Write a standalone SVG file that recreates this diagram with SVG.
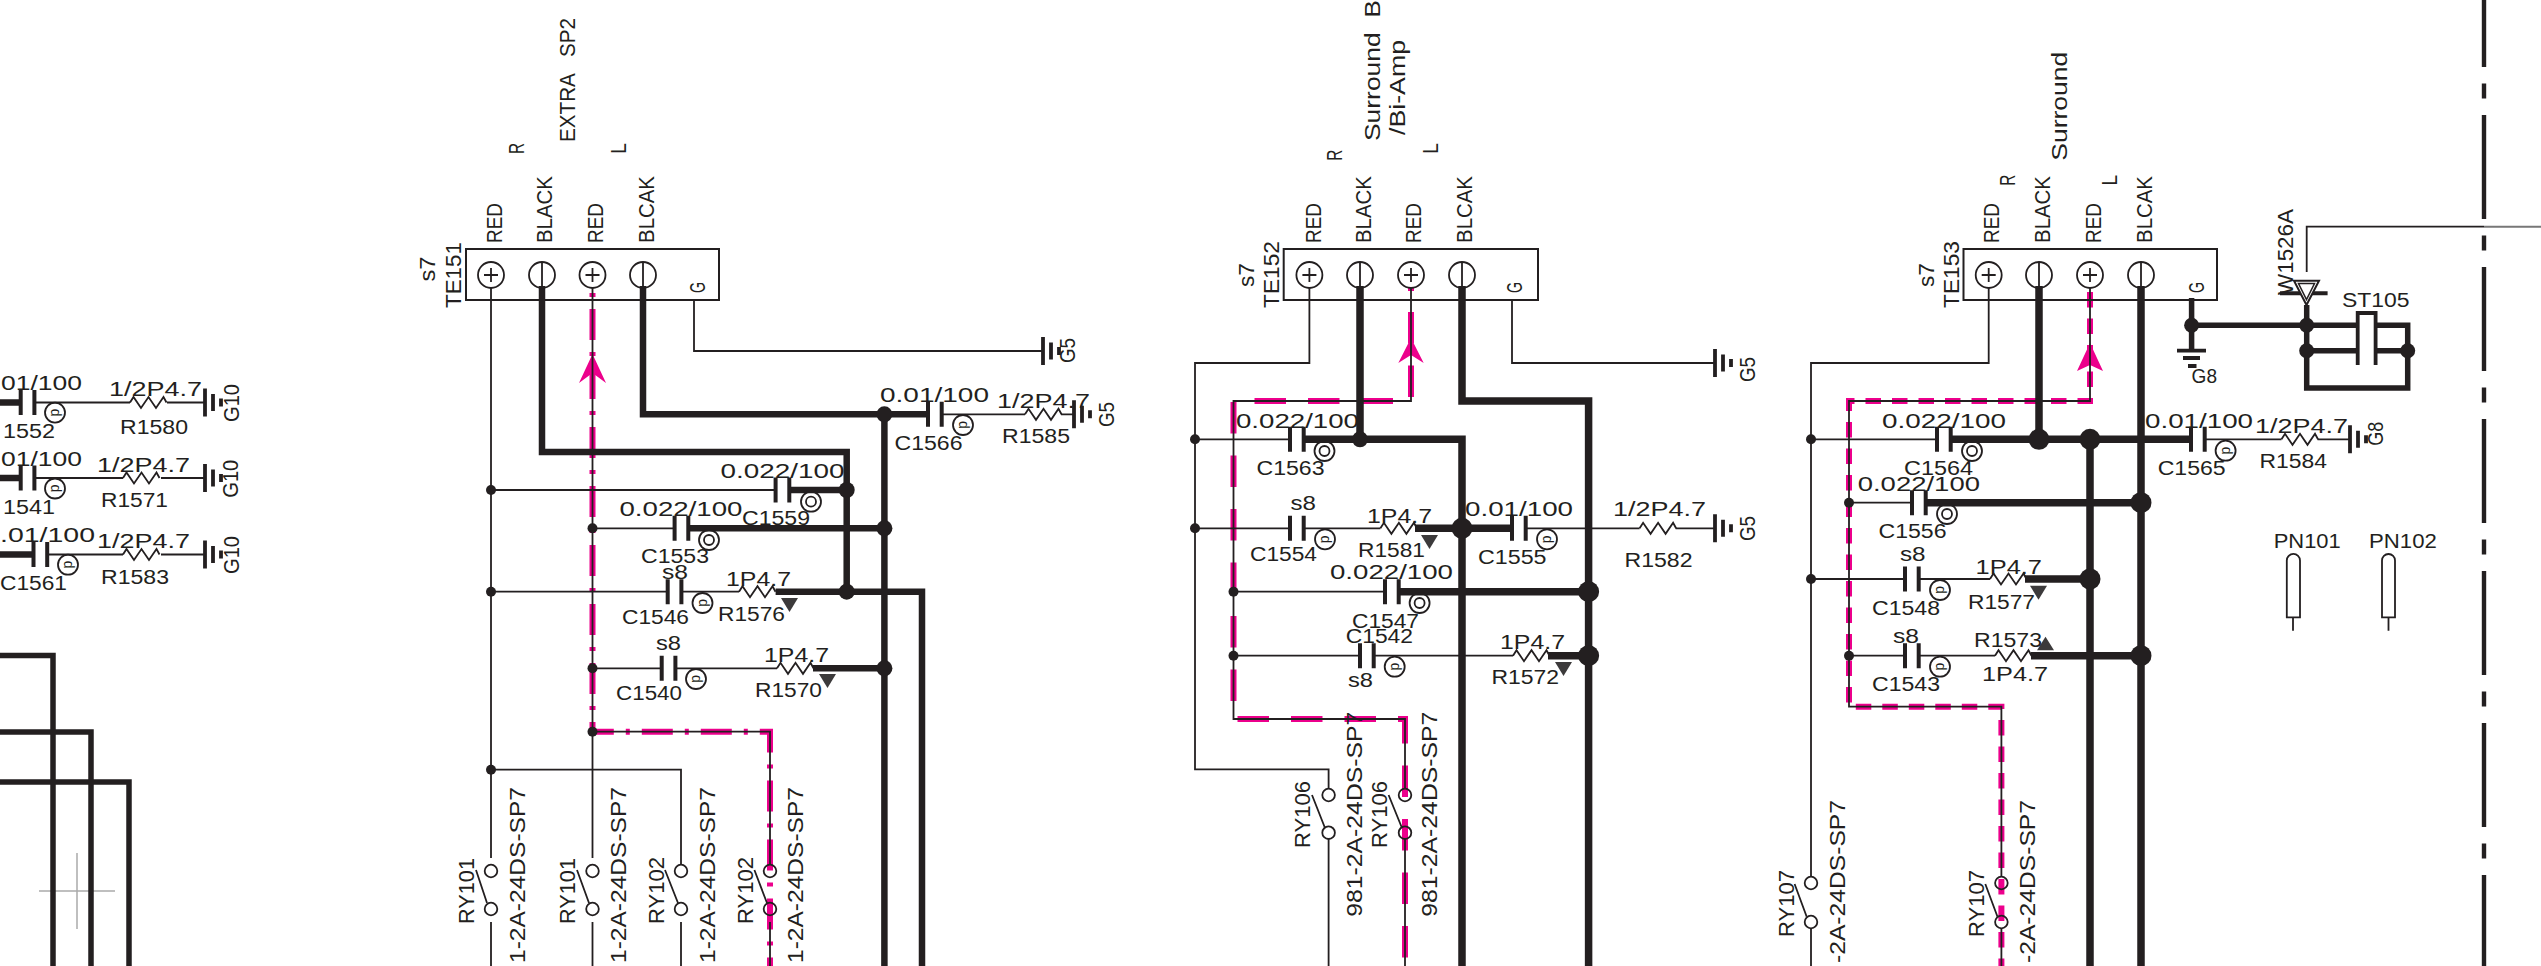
<svg xmlns="http://www.w3.org/2000/svg" width="2541" height="966" viewBox="0 0 2541 966">
<style>
text{font-family:"Liberation Sans",Arial,sans-serif;fill:#231f20;font-size:19.5px}
.r{font-size:22px}
.d{font-size:14px;text-anchor:middle}
.w,.k,.m,.box,.p,.sym{fill:none;stroke:#231f20}
.w{stroke-width:1.8}
.k{stroke-width:6.5;stroke-linejoin:miter}
.k8{stroke-width:7.5}
.m{stroke:#ec008c;stroke-width:6}
.box{stroke-width:2;fill:#fff}
.p{stroke-width:1.8}
.sym{stroke-width:1.8}
.dot{fill:#231f20}
.arr{fill:#ec008c}
.tri{fill:#3c3a3b}
</style>
<defs>
<path id="res" class="w" d="M0 0l3.500-5.500 7.500 11 7.500-11 7.500 11 7.500-11 3 5.500" style="stroke-width:1.8"/>
<path id="cap" d="M0-12.500V12.500M13.700-12.500V12.500" fill="none" stroke="#231f20" stroke-width="4"/>
<path id="gnd" d="M0-14V14M8-8.500V8.500M16-4V4" fill="none" stroke="#231f20" stroke-width="3.800"/>
<path id="tdn" class="tri" d="M0 0H17L8.500 14Z"/>
<path id="tup" class="tri" d="M0 13.500H17L8.500 0Z"/>
</defs>
<rect width="2541" height="966" fill="#fff"/>
<path id="crosshair" d="M77 853V929M39 891H115" fill="none" stroke="#aaa" stroke-width="1.500"/>
<g id="connectors">
<path class="m" stroke-dasharray="4 12 31 12" d="M592.500 293V731.700H770V966"/>
<path class="m" stroke-dasharray="31.500 22" d="M1411 312V401H1233.500V719H1405V966"/>
<path class="m" d="M1411 288V291"/>
<path class="m" stroke-dasharray="15.500 11" d="M2090 292V401H1849V706.700H2001.400V966"/>
<path class="arr" d="M592.500 354L579 383 592.500 373 606 383Z"/>
<path class="arr" d="M1411 338L1398.300 363 1411 355 1423.700 363Z"/>
<path class="arr" d="M2090 343L2077 371 2090 365 2103 371Z"/>
<g class="w">
<path d="M491 288V858M491 922V966M592.500 288V858M592.500 922V966M491 769.700H681V865M681 922V966M592.500 731.700H770V865M770 922V966"/>
<path d="M694 300V351H1043M491 490H775.600M592.500 528.300H674.600M491 591.700H667.700M681.500 591.700H739M592.500 668.300H661.700M675.500 668.300H777"/>
<path d="M942 414.300H1025M1061 414.300H1074"/>
<path d="M1309.400 288V363H1195V769.300H1328.600V789M1328.600 839V966M1411 288V401H1233.500V719H1405V789M1405 839V966"/>
<path d="M1512 300V363H1715M1195 439.300H1290M1195 528.300H1290M1303.700 528.300H1380.400M1526 528.300H1639.600M1675.600 528.300H1715M1233.500 591.700H1385M1233.500 655.700H1360M1374 655.700H1513"/>
<path d="M1988.700 288V363H1811V877M1811 928V966M2090 288V401H1849V706.700H2001.400V877M2001.400 928V966"/>
<path d="M1849 502.700H1912M1811 439.300H1937M2205 439.300H2281.500M2317.500 439.300H2350M1811 579H1905M1919 579H1990M1849 655.700H1905M1919 655.700H1995"/>
<path d="M2306.700 272V226.700H2484" />
</g>
<path d="M2484 226.700H2541" fill="none" stroke="#777" stroke-width="2"/>
<path class="w" d="M130 402.500H34M167 402.500H205M123 478H34M161 478H205M123 554.500H47M161 554.500H205"/>
<g class="k">
<path d="M0 402.500H21M0 478H21M0 554.500H34"/>
<path d="M0 655.400H53V966M0 732H91V966M0 782H129V966" stroke-width="5.500"/>
<path d="M542 286V452H846.700V591.700M643 286V414.300H930M884.400 414.300V966M789 490H846.700M688 528.300H884.400M775.600 591.700H922V966M813 668.300H884.400"/>
<path class="k8" d="M1360 286V439.300H1462V966M1462 286V401H1588.600V966M1303.700 439.300H1462M1415 528.300H1513M1399 591.700H1588.600M1548 655.700H1588.600"/>
<path class="k8" d="M2039 286V439.300M2141 286V966M2090 439.300V966M1950 439.300H2192.600M1925.600 502.700H2141M2025 579H2090M2031 655.700H2141"/>
<path d="M2306.700 305V388H2407.700V325.300H2375.600M2357.700 325.300H2191.600M2191.600 298V350.700M2306.700 350.700H2357.700M2375.600 350.700H2407.700" stroke-width="5.500"/>
</g>
<path id="boundary" d="M2484 -37V966" fill="none" stroke="#231f20" stroke-width="4.400" stroke-dasharray="104 16.500 15 16.500"/>
<g class="dot">
<circle cx="884.400" cy="414.300" r="8"/><circle cx="846.700" cy="490" r="8"/><circle cx="884.400" cy="528.300" r="8"/><circle cx="846.700" cy="591.700" r="8"/><circle cx="884.400" cy="668.300" r="8"/>
<circle cx="491" cy="490" r="5"/><circle cx="592.500" cy="528.300" r="5"/><circle cx="491" cy="591.700" r="5"/><circle cx="592.500" cy="668.300" r="5"/><circle cx="592.500" cy="731.700" r="5"/><circle cx="491" cy="769.700" r="5"/>
<circle cx="1195" cy="439.300" r="5"/><circle cx="1195" cy="528.300" r="5"/><circle cx="1233.500" cy="591.700" r="5"/><circle cx="1233.500" cy="655.700" r="5"/>
<circle cx="1360" cy="439.300" r="8"/><circle cx="1462" cy="528.300" r="10.500"/><circle cx="1588.600" cy="591.700" r="10.500"/><circle cx="1588.600" cy="655.700" r="10.500"/>
<circle cx="1811" cy="439.300" r="5"/><circle cx="1811" cy="579" r="5"/><circle cx="1849" cy="502.700" r="5"/><circle cx="1849" cy="655.700" r="5"/>
<circle cx="2039" cy="439.300" r="10.500"/><circle cx="2090" cy="439.300" r="10.500"/><circle cx="2141" cy="502.700" r="10.500"/><circle cx="2090" cy="579" r="10.500"/><circle cx="2141" cy="655.700" r="10.500"/>
<circle cx="2191.600" cy="325.300" r="7.500"/><circle cx="2306.700" cy="325.300" r="7.500"/><circle cx="2306.700" cy="350.700" r="7.500"/><circle cx="2407.700" cy="350.700" r="7.500"/>
</g>
</g>

<g id="TE151">
<rect class="box" x="466" y="249" width="253" height="51" style="fill:none"/>
<path class="sym" d="M484 275H498M491 268V282M542 262V288M592.500 268V282M585.500 275H599.500M643 262V288"/>
<circle class="p" cx="491" cy="275" r="13"/><circle class="p" cx="542" cy="275" r="13"/><circle class="p" cx="592.500" cy="275" r="13"/><circle class="p" cx="643" cy="275" r="13"/>
<text class="r" transform="rotate(-90 435.400 281.600)" x="435.400" y="281.600" textLength="25" lengthAdjust="spacingAndGlyphs">s7</text>
<text class="r" transform="rotate(-90 461 308)" x="461" y="308" textLength="66" lengthAdjust="spacingAndGlyphs">TE151</text>
<text class="r" transform="rotate(-90 502 243)" x="502" y="243" textLength="40" lengthAdjust="spacingAndGlyphs">RED</text>
<text class="r" transform="rotate(-90 552.400 243)" x="552.400" y="243" textLength="67" lengthAdjust="spacingAndGlyphs">BLACK</text>
<text class="r" transform="rotate(-90 603.400 243)" x="603.400" y="243" textLength="40" lengthAdjust="spacingAndGlyphs">RED</text>
<text class="r" transform="rotate(-90 654 243)" x="654" y="243" textLength="67" lengthAdjust="spacingAndGlyphs">BLCAK</text>
<text class="r" transform="rotate(-90 704.500 293)" x="704.500" y="293" textLength="11" lengthAdjust="spacingAndGlyphs">G</text>
<text class="r" transform="rotate(-90 524 154)" x="524" y="154" textLength="11" lengthAdjust="spacingAndGlyphs">R</text>
<text class="r" transform="rotate(-90 626 154)" x="626" y="154" textLength="11" lengthAdjust="spacingAndGlyphs">L</text>
<text class="r" xml:space="preserve" transform="rotate(-90 575.400 142)" x="575.400" y="142" textLength="124" lengthAdjust="spacingAndGlyphs">EXTRA   SP2</text>
</g>
<g id="TE152">
<rect class="box" x="1283.700" y="249" width="254.300" height="51" style="fill:none"/>
<path class="sym" d="M1302.400 275H1316.400M1309.400 268V282M1360 262V288M1411 268V282M1404 275H1418M1462 262V288"/>
<circle class="p" cx="1309.400" cy="275" r="13"/><circle class="p" cx="1360" cy="275" r="13"/><circle class="p" cx="1411" cy="275" r="13"/><circle class="p" cx="1462" cy="275" r="13"/>
<text class="r" transform="rotate(-90 1254 287)" x="1254" y="287" textLength="24" lengthAdjust="spacingAndGlyphs">s7</text>
<text class="r" transform="rotate(-90 1279 308)" x="1279" y="308" textLength="67" lengthAdjust="spacingAndGlyphs">TE152</text>
<text class="r" transform="rotate(-90 1320.500 243)" x="1320.500" y="243" textLength="40" lengthAdjust="spacingAndGlyphs">RED</text>
<text class="r" transform="rotate(-90 1371.400 243)" x="1371.400" y="243" textLength="67" lengthAdjust="spacingAndGlyphs">BLACK</text>
<text class="r" transform="rotate(-90 1421 243)" x="1421" y="243" textLength="40" lengthAdjust="spacingAndGlyphs">RED</text>
<text class="r" transform="rotate(-90 1472 243)" x="1472" y="243" textLength="67" lengthAdjust="spacingAndGlyphs">BLCAK</text>
<text class="r" transform="rotate(-90 1522 293)" x="1522" y="293" textLength="11" lengthAdjust="spacingAndGlyphs">G</text>
<text class="r" transform="rotate(-90 1341.600 160.700)" x="1341.600" y="160.700" textLength="11" lengthAdjust="spacingAndGlyphs">R</text>
<text class="r" transform="rotate(-90 1437.500 154)" x="1437.500" y="154" textLength="11" lengthAdjust="spacingAndGlyphs">L</text>
<text class="r" xml:space="preserve" transform="rotate(-90 1380 141)" x="1380" y="141" textLength="141" lengthAdjust="spacingAndGlyphs">Surround  B</text>
<text class="r" transform="rotate(-90 1405 135)" x="1405" y="135" textLength="95" lengthAdjust="spacingAndGlyphs">/Bi-Amp</text>
</g>
<g id="TE153">
<rect class="box" x="1963.500" y="249" width="253.500" height="51" style="fill:none"/>
<path class="sym" d="M1981.700 275H1995.700M1988.700 268V282M2039 262V288M2090 268V282M2083 275H2097M2141 262V288"/>
<circle class="p" cx="1988.700" cy="275" r="13"/><circle class="p" cx="2039" cy="275" r="13"/><circle class="p" cx="2090" cy="275" r="13"/><circle class="p" cx="2141" cy="275" r="13"/>
<text class="r" transform="rotate(-90 1934 287)" x="1934" y="287" textLength="24" lengthAdjust="spacingAndGlyphs">s7</text>
<text class="r" transform="rotate(-90 1958.600 308)" x="1958.600" y="308" textLength="67" lengthAdjust="spacingAndGlyphs">TE153</text>
<text class="r" transform="rotate(-90 1999.400 243)" x="1999.400" y="243" textLength="40" lengthAdjust="spacingAndGlyphs">RED</text>
<text class="r" transform="rotate(-90 2050 243)" x="2050" y="243" textLength="67" lengthAdjust="spacingAndGlyphs">BLACK</text>
<text class="r" transform="rotate(-90 2101 243)" x="2101" y="243" textLength="40" lengthAdjust="spacingAndGlyphs">RED</text>
<text class="r" transform="rotate(-90 2152 243)" x="2152" y="243" textLength="67" lengthAdjust="spacingAndGlyphs">BLCAK</text>
<text class="r" transform="rotate(-90 2203.800 293)" x="2203.800" y="293" textLength="11" lengthAdjust="spacingAndGlyphs">G</text>
<text class="r" transform="rotate(-90 2015.400 185.700)" x="2015.400" y="185.700" textLength="11" lengthAdjust="spacingAndGlyphs">R</text>
<text class="r" transform="rotate(-90 2117.400 185.700)" x="2117.400" y="185.700" textLength="11" lengthAdjust="spacingAndGlyphs">L</text>
<text class="r" transform="rotate(-90 2067 160.700)" x="2067" y="160.700" textLength="109" lengthAdjust="spacingAndGlyphs">Surround</text>
</g>

<g id="left-rows">
<use href="#cap" x="20.700" y="402.500"/><use href="#res" x="130" y="402.500"/><use href="#gnd" x="205" y="402.500"/>
<circle class="p" cx="55" cy="412.600" r="10"/><text class="d" transform="translate(55 412.600) rotate(90)" y="4">d</text>
<text x="1" y="390" textLength="81" lengthAdjust="spacingAndGlyphs">01/100</text>
<text x="3" y="438" textLength="52" lengthAdjust="spacingAndGlyphs">1552</text>
<text x="109" y="396" textLength="93" lengthAdjust="spacingAndGlyphs">1/2P4.7</text>
<text x="120" y="434" textLength="68" lengthAdjust="spacingAndGlyphs">R1580</text>
<text class="r" transform="rotate(-90 238.500 422)" x="238.500" y="422" textLength="38" lengthAdjust="spacingAndGlyphs">G10</text>
<use href="#cap" x="20.700" y="478"/><use href="#res" x="123" y="478"/><use href="#gnd" x="205" y="478"/>
<circle class="p" cx="55" cy="488.500" r="10"/><text class="d" transform="translate(55 488.500) rotate(90)" y="4">d</text>
<text x="1" y="466" textLength="81" lengthAdjust="spacingAndGlyphs">01/100</text>
<text x="3" y="513.600" textLength="52" lengthAdjust="spacingAndGlyphs">1541</text>
<text x="97" y="471.700" textLength="93" lengthAdjust="spacingAndGlyphs">1/2P4.7</text>
<text x="101" y="507" textLength="67" lengthAdjust="spacingAndGlyphs">R1571</text>
<text class="r" transform="rotate(-90 238.500 497.700)" x="238.500" y="497.700" textLength="38" lengthAdjust="spacingAndGlyphs">G10</text>
<use href="#cap" x="33.500" y="554.500"/><use href="#res" x="123" y="554.500"/><use href="#gnd" x="205" y="554.500"/>
<circle class="p" cx="68" cy="564.700" r="10"/><text class="d" transform="translate(68 564.700) rotate(90)" y="4">d</text>
<text x="0" y="542.400" textLength="95" lengthAdjust="spacingAndGlyphs">.01/100</text>
<text x="0" y="589.500" textLength="67" lengthAdjust="spacingAndGlyphs">C1561</text>
<text x="97" y="548" textLength="93" lengthAdjust="spacingAndGlyphs">1/2P4.7</text>
<text x="101" y="583.500" textLength="68" lengthAdjust="spacingAndGlyphs">R1583</text>
<text class="r" transform="rotate(-90 238.500 574)" x="238.500" y="574" textLength="38" lengthAdjust="spacingAndGlyphs">G10</text>
</g>

<g id="sp2-parts">
<use href="#gnd" x="1043" y="351"/>
<text class="r" transform="rotate(-90 1075 363)" x="1075" y="363" textLength="25" lengthAdjust="spacingAndGlyphs">G5</text>
<use href="#cap" x="928" y="414.300"/><use href="#res" x="1025" y="414.300"/><use href="#gnd" x="1074" y="414.300"/>
<circle class="p" cx="963" cy="425" r="10"/><text class="d" transform="translate(963 425) rotate(90)" y="4">d</text>
<text x="880" y="402" textLength="109" lengthAdjust="spacingAndGlyphs">0.01/100</text>
<text x="997" y="408" textLength="93" lengthAdjust="spacingAndGlyphs">1/2P4.7</text>
<text x="894.500" y="450" textLength="68" lengthAdjust="spacingAndGlyphs">C1566</text>
<text x="1002" y="443" textLength="68" lengthAdjust="spacingAndGlyphs">R1585</text>
<text class="r" transform="rotate(-90 1114 427)" x="1114" y="427" textLength="25" lengthAdjust="spacingAndGlyphs">G5</text>
<use href="#cap" x="775.600" y="490"/><circle class="p" cx="811" cy="501.700" r="10"/><circle class="p" cx="811" cy="501.700" r="5"/>
<text x="720.500" y="478" textLength="124" lengthAdjust="spacingAndGlyphs">0.022/100</text>
<text x="742" y="525" textLength="68" lengthAdjust="spacingAndGlyphs">C1559</text>
<use href="#cap" x="674.600" y="528.300"/><circle class="p" cx="709" cy="540" r="10"/><circle class="p" cx="709" cy="540" r="5"/>
<text x="619.500" y="516" textLength="123" lengthAdjust="spacingAndGlyphs">0.022/100</text>
<text x="641" y="563" textLength="68" lengthAdjust="spacingAndGlyphs">C1553</text>
<use href="#cap" x="667.700" y="591.700"/><use href="#res" x="739" y="591.700"/><use href="#tdn" x="781" y="598"/>
<circle class="p" cx="702.500" cy="603" r="10"/><text class="d" transform="translate(702.500 603) rotate(90)" y="4">d</text>
<text x="662" y="579" textLength="26" lengthAdjust="spacingAndGlyphs">s8</text>
<text x="622" y="624" textLength="67" lengthAdjust="spacingAndGlyphs">C1546</text>
<text x="726" y="586" textLength="65" lengthAdjust="spacingAndGlyphs">1P4.7</text>
<text x="718" y="621" textLength="67" lengthAdjust="spacingAndGlyphs">R1576</text>
<use href="#cap" x="661.700" y="668.300"/><use href="#res" x="777" y="668.300"/><use href="#tdn" x="819" y="674"/>
<circle class="p" cx="696" cy="679" r="10"/><text class="d" transform="translate(696 679) rotate(90)" y="4">d</text>
<text x="656" y="650" textLength="25" lengthAdjust="spacingAndGlyphs">s8</text>
<text x="616" y="700" textLength="66" lengthAdjust="spacingAndGlyphs">C1540</text>
<text x="764" y="662" textLength="65" lengthAdjust="spacingAndGlyphs">1P4.7</text>
<text x="755" y="697" textLength="67" lengthAdjust="spacingAndGlyphs">R1570</text>
</g>

<g id="relays-101-102">
<g class="p"><circle cx="491" cy="871" r="6.300"/><circle cx="491" cy="909" r="6.300"/><circle cx="592.500" cy="871" r="6.300"/><circle cx="592.500" cy="909" r="6.300"/><circle cx="681" cy="871" r="6.300"/><circle cx="681" cy="909" r="6.300"/><circle cx="770" cy="871" r="6.300"/><circle cx="770" cy="909" r="6.300"/>
<path d="M476 870L487 903M577 870L589 903M665 870L678 903M754.400 870L767 903"/></g>
<text class="r" transform="rotate(-90 473.500 924)" x="473.500" y="924" textLength="66" lengthAdjust="spacingAndGlyphs">RY101</text>
<text class="r" transform="rotate(-90 574.500 924)" x="574.500" y="924" textLength="66" lengthAdjust="spacingAndGlyphs">RY101</text>
<text class="r" transform="rotate(-90 664 924)" x="664" y="924" textLength="67" lengthAdjust="spacingAndGlyphs">RY102</text>
<text class="r" transform="rotate(-90 752.600 924)" x="752.600" y="924" textLength="67" lengthAdjust="spacingAndGlyphs">RY102</text>
<text class="r" transform="rotate(-90 525 963)" x="525" y="963" textLength="176" lengthAdjust="spacingAndGlyphs">1-2A-24DS-SP7</text>
<text class="r" transform="rotate(-90 626 963)" x="626" y="963" textLength="176" lengthAdjust="spacingAndGlyphs">1-2A-24DS-SP7</text>
<text class="r" transform="rotate(-90 714.500 963)" x="714.500" y="963" textLength="176" lengthAdjust="spacingAndGlyphs">1-2A-24DS-SP7</text>
<text class="r" transform="rotate(-90 803 963)" x="803" y="963" textLength="176" lengthAdjust="spacingAndGlyphs">1-2A-24DS-SP7</text>
</g>

<g id="bi-amp-parts">
<use href="#gnd" x="1715" y="363"/>
<text class="r" transform="rotate(-90 1755 382)" x="1755" y="382" textLength="25" lengthAdjust="spacingAndGlyphs">G5</text>
<use href="#cap" x="1290" y="439.300"/><circle class="p" cx="1324.500" cy="451" r="10"/><circle class="p" cx="1324.500" cy="451" r="5"/>
<text x="1236" y="427.700" textLength="123" lengthAdjust="spacingAndGlyphs">0.022/100</text>
<text x="1256.500" y="475" textLength="68" lengthAdjust="spacingAndGlyphs">C1563</text>
<use href="#cap" x="1290" y="528.300"/><use href="#res" x="1380.400" y="528.300"/><use href="#tdn" x="1421" y="535"/>
<circle class="p" cx="1325" cy="539.300" r="10"/><text class="d" transform="translate(1325 539.300) rotate(90)" y="4">d</text>
<text x="1290.600" y="510" textLength="25.400" lengthAdjust="spacingAndGlyphs">s8</text>
<text x="1250" y="561" textLength="67" lengthAdjust="spacingAndGlyphs">C1554</text>
<text x="1367" y="522.700" textLength="65" lengthAdjust="spacingAndGlyphs">1P4.7</text>
<text x="1358" y="557" textLength="67" lengthAdjust="spacingAndGlyphs">R1581</text>
<use href="#cap" x="1512" y="528.300"/><use href="#res" x="1639.600" y="528.300"/><use href="#gnd" x="1715" y="528.300"/>
<circle class="p" cx="1547" cy="539.300" r="10"/><text class="d" transform="translate(1547 539.300) rotate(90)" y="4">d</text>
<text x="1465" y="516" textLength="108" lengthAdjust="spacingAndGlyphs">0.01/100</text>
<text x="1478" y="564" textLength="68.500" lengthAdjust="spacingAndGlyphs">C1555</text>
<text x="1613" y="516" textLength="93" lengthAdjust="spacingAndGlyphs">1/2P4.7</text>
<text x="1624.500" y="567" textLength="68" lengthAdjust="spacingAndGlyphs">R1582</text>
<text class="r" transform="rotate(-90 1755 541)" x="1755" y="541" textLength="25" lengthAdjust="spacingAndGlyphs">G5</text>
<use href="#cap" x="1385" y="591.700"/><circle class="p" cx="1419.600" cy="603" r="10"/><circle class="p" cx="1419.600" cy="603" r="5"/>
<text x="1330" y="579" textLength="123" lengthAdjust="spacingAndGlyphs">0.022/100</text>
<text x="1352" y="627.700" textLength="67" lengthAdjust="spacingAndGlyphs">C1547</text>
<use href="#cap" x="1360" y="655.700"/><use href="#res" x="1513" y="655.700"/><use href="#tdn" x="1555" y="662"/>
<circle class="p" cx="1394.700" cy="666.700" r="10"/><text class="d" transform="translate(1394.700 666.700) rotate(90)" y="4">d</text>
<text x="1345.700" y="643" textLength="67.300" lengthAdjust="spacingAndGlyphs">C1542</text>
<text x="1348" y="687" textLength="25" lengthAdjust="spacingAndGlyphs">s8</text>
<text x="1500" y="649" textLength="65" lengthAdjust="spacingAndGlyphs">1P4.7</text>
<text x="1491.400" y="684" textLength="67.600" lengthAdjust="spacingAndGlyphs">R1572</text>
</g>

<g id="relays-106">
<g class="p"><circle cx="1328.600" cy="795" r="6.300"/><circle cx="1328.600" cy="832.700" r="6.300"/><circle cx="1405" cy="795" r="6.300"/><circle cx="1405" cy="832.700" r="6.300"/>
<path d="M1312 795L1325 828M1388.600 795L1402 828"/></g>
<text class="r" transform="rotate(-90 1310 848)" x="1310" y="848" textLength="67" lengthAdjust="spacingAndGlyphs">RY106</text>
<text class="r" transform="rotate(-90 1386.500 848)" x="1386.500" y="848" textLength="67" lengthAdjust="spacingAndGlyphs">RY106</text>
<text class="r" transform="rotate(-90 1362 916.700)" x="1362" y="916.700" textLength="205" lengthAdjust="spacingAndGlyphs">981-2A-24DS-SP7</text>
<text class="r" transform="rotate(-90 1437.500 916.700)" x="1437.500" y="916.700" textLength="205" lengthAdjust="spacingAndGlyphs">981-2A-24DS-SP7</text>
</g>

<g id="surround-parts">
<use href="#cap" x="1937" y="439.300"/><circle class="p" cx="1972" cy="451" r="10"/><circle class="p" cx="1972" cy="451" r="5"/>
<text x="1882" y="427.700" textLength="124" lengthAdjust="spacingAndGlyphs">0.022/100</text>
<text x="1904" y="475" textLength="69" lengthAdjust="spacingAndGlyphs">C1564</text>
<use href="#cap" x="2191" y="439.300"/><use href="#res" x="2281.500" y="439.300"/><use href="#gnd" x="2350" y="439.300"/>
<circle class="p" cx="2225.600" cy="450.700" r="10"/><text class="d" transform="translate(2225.600 450.700) rotate(90)" y="4">d</text>
<text x="2145" y="427.700" textLength="108" lengthAdjust="spacingAndGlyphs">0.01/100</text>
<text x="2157.700" y="475" textLength="68" lengthAdjust="spacingAndGlyphs">C1565</text>
<text x="2255" y="433" textLength="93" lengthAdjust="spacingAndGlyphs">1/2P4.7</text>
<text x="2259.600" y="468" textLength="67.400" lengthAdjust="spacingAndGlyphs">R1584</text>
<text class="r" transform="rotate(-90 2383 445.700)" x="2383" y="445.700" textLength="24" lengthAdjust="spacingAndGlyphs">G8</text>
<use href="#cap" x="1912" y="502.700"/><circle class="p" cx="1947" cy="514" r="10"/><circle class="p" cx="1947" cy="514" r="5"/>
<text x="1857.700" y="490.700" textLength="122.300" lengthAdjust="spacingAndGlyphs">0.022/100</text>
<text x="1878.500" y="538" textLength="68" lengthAdjust="spacingAndGlyphs">C1556</text>
<use href="#cap" x="1905" y="579"/><use href="#res" x="1990" y="579"/><use href="#tdn" x="2030" y="585.700"/>
<circle class="p" cx="1940" cy="590" r="10"/><text class="d" transform="translate(1940 590) rotate(90)" y="4">d</text>
<text x="1900" y="560.700" textLength="25.600" lengthAdjust="spacingAndGlyphs">s8</text>
<text x="1872" y="615" textLength="68" lengthAdjust="spacingAndGlyphs">C1548</text>
<text x="1975.600" y="574" textLength="66.400" lengthAdjust="spacingAndGlyphs">1P4.7</text>
<text x="1968" y="609" textLength="67" lengthAdjust="spacingAndGlyphs">R1577</text>
<use href="#cap" x="1905" y="655.700"/><use href="#res" x="1995" y="655.700"/><use href="#tup" x="2037" y="636.700"/>
<circle class="p" cx="1940" cy="666.700" r="10"/><text class="d" transform="translate(1940 666.700) rotate(90)" y="4">d</text>
<text x="1893" y="643" textLength="26" lengthAdjust="spacingAndGlyphs">s8</text>
<text x="1872" y="691" textLength="68" lengthAdjust="spacingAndGlyphs">C1543</text>
<text x="1974" y="646.700" textLength="68" lengthAdjust="spacingAndGlyphs">R1573</text>
<text x="1982" y="681" textLength="66" lengthAdjust="spacingAndGlyphs">1P4.7</text>
</g>

<g id="relays-107">
<g class="p"><circle cx="1811" cy="883" r="6.300"/><circle cx="1811" cy="922" r="6.300"/><circle cx="2001.400" cy="883" r="6.300"/><circle cx="2001.400" cy="922" r="6.300"/>
<path d="M1794.600 884L1806.700 916.700M1985.300 884L1997.500 916.700"/></g>
<text class="r" transform="rotate(-90 1793.600 937)" x="1793.600" y="937" textLength="67" lengthAdjust="spacingAndGlyphs">RY107</text>
<text class="r" transform="rotate(-90 1984 937)" x="1984" y="937" textLength="67" lengthAdjust="spacingAndGlyphs">RY107</text>
<text class="r" transform="rotate(-90 1844.600 963)" x="1844.600" y="963" textLength="163" lengthAdjust="spacingAndGlyphs">-2A-24DS-SP7</text>
<text class="r" transform="rotate(-90 2035 963)" x="2035" y="963" textLength="163" lengthAdjust="spacingAndGlyphs">-2A-24DS-SP7</text>
</g>

<g id="W1526A">
<path d="M2280 293.300H2327.600" fill="none" stroke="#231f20" stroke-width="4"/>
<path d="M2294 280.700H2319L2306.500 305Z" fill="#fff" stroke="#231f20" stroke-width="2"/>
<path d="M2298.500 283.500H2314.500L2306.500 299.500Z" fill="#fff" stroke="#231f20" stroke-width="1.500"/>
<text class="r" transform="rotate(-90 2293 295)" x="2293" y="295" textLength="86" lengthAdjust="spacingAndGlyphs">W1526A</text>
</g>
<g id="G8-ground">
<path d="M2177 350.700H2206M2183 358H2200M2188 366H2196.500" fill="none" stroke="#231f20" stroke-width="3.800"/>
<text x="2191.600" y="382.700" textLength="25.400" lengthAdjust="spacingAndGlyphs">G8</text>
</g>
<g id="ST105">
<path d="M2357.700 365V313H2375.600V365" fill="none" stroke="#231f20" stroke-width="3.800"/>
<text x="2342" y="306.700" textLength="67.600" lengthAdjust="spacingAndGlyphs">ST105</text>
</g>
<g id="PN101">
<path class="p" d="M2286.800 617.300V560.500A6.600 6.600 0 0 1 2300 560.500V617.300ZM2293 617.300V630.700"/>
<text x="2273.700" y="548.300" textLength="67" lengthAdjust="spacingAndGlyphs">PN101</text>
</g>
<g id="PN102">
<path class="p" d="M2382 617.300V560.500A6.500 6.500 0 0 1 2395 560.500V617.300ZM2388.500 617.300V630.700"/>
<text x="2369" y="548.300" textLength="67.800" lengthAdjust="spacingAndGlyphs">PN102</text>
</g>
</svg>
